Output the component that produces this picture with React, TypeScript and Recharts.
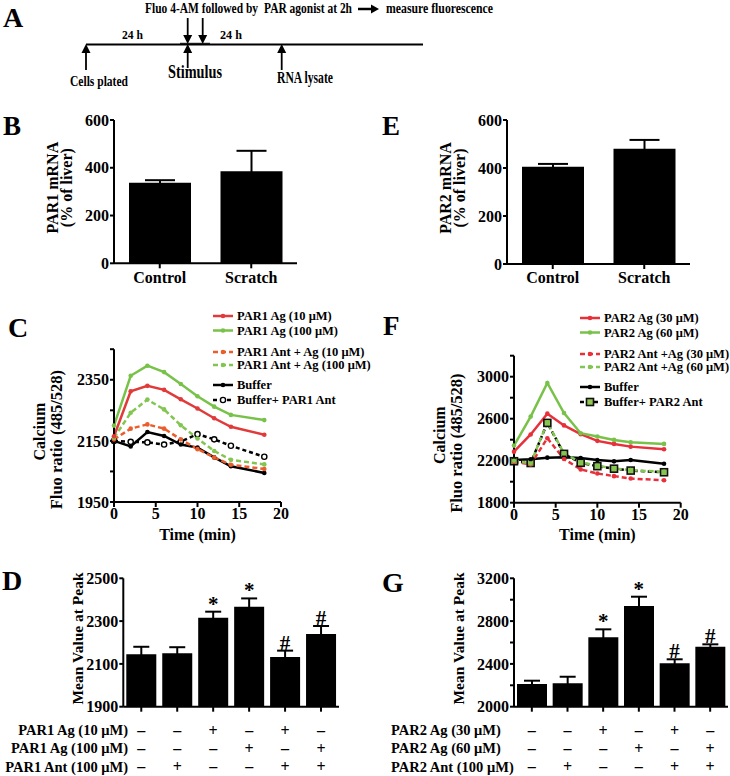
import React from 'react'
import {
  ComposedChart, LineChart, Bar, Line, XAxis, YAxis, ErrorBar, Label, LabelList, Legend,
} from 'recharts'

const FONT = '"Liberation Serif", "Times New Roman", serif'

// B / E: mRNA
const mrnaGroups = ['Control', 'Scratch']
const par1Mrna = [337, 385]
const par1MrnaSem = [11, 86]
const par2Mrna = [405, 480]
const par2MrnaSem = [12, 37]
const mrnaTicks = [0, 200, 400, 600]

// C: PAR1 calcium time course
const timeC = [0, 2, 4, 6, 8, 10, 12, 14, 18]
const par1Ag10 = [2165, 2312, 2330, 2317, 2286, 2256, 2224, 2196, 2170]
const par1Ag100 = [2200, 2363, 2396, 2375, 2336, 2296, 2262, 2235, 2218]
const par1AntAg10 = [2155, 2190, 2204, 2190, 2155, 2123, 2096, 2072, 2058]
const par1AntAg100 = [2160, 2242, 2285, 2253, 2201, 2158, 2117, 2088, 2073]
const bufferC = [2150, 2132, 2179, 2166, 2138, 2128, 2096, 2067, 2045]
const bufferPar1Ant = [2150, 2147, 2145, 2138, 2148, 2172, 2155, 2134, 2098]
const cNames = ['PAR1 Ag (10 μM)', 'PAR1 Ag (100 μM)', 'PAR1 Ant + Ag (10 μM)', 'PAR1 Ant + Ag (100 μM)', 'Buffer', 'Buffer+ PAR1 Ant']
const cTicks = [1950, 2050, 2150, 2250, 2350, 2450]
const cTickLabels = [1950, 2150, 2350]

// F: PAR2 calcium time course
const timeF = [0, 2, 4, 6, 8, 10, 12, 14, 18]
const par2Ag30 = [2286, 2450, 2648, 2536, 2453, 2389, 2360, 2334, 2309]
const par2Ag60 = [2344, 2620, 2940, 2654, 2462, 2430, 2398, 2376, 2360]
const par2AntAg30 = [2190, 2165, 2414, 2216, 2117, 2078, 2053, 2030, 2014]
const par2AntAg60 = [2200, 2174, 2565, 2270, 2184, 2152, 2126, 2110, 2094]
const bufferF = [2206, 2213, 2229, 2232, 2226, 2206, 2194, 2206, 2171]
const bufferPar2Ant = [2195, 2178, 2560, 2265, 2180, 2148, 2124, 2106, 2090]
const fNames = ['PAR2 Ag (30 μM)', 'PAR2 Ag (60 μM)', 'PAR2 Ant +Ag (30 μM)', 'PAR2 Ant +Ag (60 μM)', 'Buffer', 'Buffer+ PAR2 Ant']
const fTicks = [1800, 2000, 2200, 2400, 2600, 2800, 3000, 3200]
const fTickLabels = [1800, 2200, 2600, 3000]

const timeTicks = [0, 5, 10, 15, 20]

// D / G: peak values
const peakGroups = ['1', '2', '3', '4', '5', '6']
const par1Peak = [2145, 2150, 2316, 2367, 2132, 2240]
const par1PeakSem = [35, 28, 28, 39, 30, 37]
const par2Peak = [2212, 2218, 2649, 2941, 2405, 2561]
const par2PeakSem = [31, 62, 74, 87, 38, 22]
const peakSig = ['', '', '*', '*', '#', '#']
const dTicks = [1900, 2100, 2300, 2500]
const gTicks = [2000, 2200, 2400, 2600, 2800, 3000, 3200]
const gTickLabels = [2000, 2400, 2800, 3200]
const agLowSigns = ['–', '–', '+', '–', '+', '–']
const agHighSigns = ['–', '–', '–', '+', '–', '+']
const antSigns = ['–', '+', '–', '–', '+', '+']
const par1Rows = ['PAR1 Ag (10 μM)', 'PAR1 Ag (100 μM)', 'PAR1 Ant (100 μM)']
const par2Rows = ['PAR2 Ag (30 μM)', 'PAR2 Ag (60 μM)', 'PAR2 Ant (100 μM)']

const RED = '#e03a3a'
const GREEN = '#79c24a'
const ORANGE = '#ec5d2c'
const DRED = '#e8303a'
const DGREEN = '#82c550'

type Marker = 'dot' | 'open' | 'square'
type Style = { color: string; dash?: string; marker: Marker }

const cStyles: Style[] = [
  { color: RED, marker: 'dot' },
  { color: GREEN, marker: 'dot' },
  { color: ORANGE, dash: '5 3', marker: 'dot' },
  { color: DGREEN, dash: '5 3', marker: 'dot' },
  { color: '#000', marker: 'dot' },
  { color: '#000', dash: '4 3', marker: 'open' },
]
const fStyles: Style[] = [
  { color: DRED, marker: 'dot' },
  { color: GREEN, marker: 'dot' },
  { color: DRED, dash: '5 3', marker: 'dot' },
  { color: DGREEN, dash: '5 3', marker: 'dot' },
  { color: '#000', marker: 'dot' },
  { color: '#000', dash: '4 3', marker: 'square' },
]
const legendRows = [0, 14.5, 36, 49, 69, 84]

const tickStyle = { fontFamily: FONT, fontWeight: 700, fontSize: 16, fill: '#000' }
const axisLine = { stroke: '#000', strokeWidth: 2 }

type Box = { left: number; top: number; width: number; height: number }
type Plot = { x0: number; y0: number; x1: number; y1: number }

function frame(box: Box, plot: Plot, xh: number) {
  return {
    margin: {
      top: plot.y0 - box.top,
      right: box.left + box.width - plot.x1,
      bottom: box.top + box.height - plot.y1 - xh,
      left: 0,
    },
    yw: plot.x0 - box.left,
  }
}

function drawMarker(kind: Marker, color: string, cx: number, cy: number, key?: any) {
  if (kind === 'open') return <circle key={key} cx={cx} cy={cy} r={2.6} fill="#fff" stroke="#000" strokeWidth={1.4} />
  if (kind === 'square') return <rect key={key} x={cx - 3.5} y={cy - 3.5} width={7} height={7} fill="#93c94f" stroke="#111" strokeWidth={1.6} />
  return <circle key={key} cx={cx} cy={cy} r={2.3} fill={color} />
}

// each line: [text, x offset from the axis line, y shift from the axis middle, font size]
type TitleLine = [string, number, number, number]

const yTitle = (lines: TitleLine[]) => (props: any) => {
  const vb = props.viewBox
  const ax = vb.x + vb.width
  const mid = vb.y + vb.height / 2
  return (
    <g>
      {lines.map(([l, dx, dy, fs]) => (
        <text key={l} transform={`translate(${ax + dx},${mid + dy}) rotate(-90)`} textAnchor="middle" dy="0.35em"
          fontFamily={FONT} fontWeight={700} fontSize={fs} fill="#000">{l}</text>
      ))}
    </g>
  )
}

function lineLegend(names: string[], styles: Style[]) {
  return () => (
    <svg width={160} height={96} style={{ overflow: 'visible', display: 'block' }}>
      {names.map((n, i) => {
        const y = legendRows[i] + 6
        const s = styles[i]
        return (
          <g key={n}>
            <line x1={0} x2={20} y1={y} y2={y} stroke={s.color} strokeWidth={2.5} strokeDasharray={s.dash} />
            {drawMarker(s.marker, s.color, 10, y)}
            <text x={24} y={y} dy="0.35em" fontFamily={FONT} fontWeight={700} fontSize={12.5} fill="#000">{n}</text>
          </g>
        )
      })}
    </svg>
  )
}

function MrnaPanel({ box, plot, values, sem, title }: { box: Box; plot: Plot; values: number[]; sem: number[]; title: string[] }) {
  const xh = 26
  const { margin, yw } = frame(box, plot, xh)
  const data = mrnaGroups.map((g, i) => ({ group: g, value: values[i], sem: sem[i] }))
  return (
    <div style={{ position: 'absolute', left: box.left, top: box.top }}>
      <ComposedChart width={box.width} height={box.height} data={data} margin={margin}>
        <XAxis dataKey="group" height={xh} tick={tickStyle} tickSize={5} tickMargin={3} axisLine={axisLine} tickLine={axisLine} interval={0} />
        <YAxis width={yw} domain={[0, 600]} ticks={mrnaTicks} tick={tickStyle} tickSize={4} tickMargin={1} axisLine={axisLine} tickLine={axisLine} interval={0}>
          <Label content={yTitle([[title[0], -62, -4, 16], [title[1], -48, -4, 16]])} />
        </YAxis>
        <Bar dataKey="value" fill="#000" barSize={62} isAnimationActive={false}>
          <ErrorBar dataKey="sem" width={15} stroke="#000" strokeWidth={2} direction="y" isAnimationActive={false} />
        </Bar>
      </ComposedChart>
    </div>
  )
}

function TimePanel({ box, plot, time, series, styles, names, ticks, tickLabels, domain, legendPos }: {
  box: Box; plot: Plot; time: number[]; series: number[][]; styles: Style[]; names: string[]; ticks: number[]; tickLabels: number[]; domain: [number, number]; legendPos: { x: number; y: number }
}) {
  const xh = box.top + box.height - plot.y1
  const { margin, yw } = frame(box, plot, xh)
  const data = time.map((t, i) => {
    const row: Record<string, number> = { t }
    series.forEach((s, k) => { row[`s${k}`] = s[i] })
    return row
  })
  const order = [5, 4, 2, 3, 0, 1]
  return (
    <div style={{ position: 'absolute', left: box.left, top: box.top }}>
      <LineChart width={box.width} height={box.height} data={data} margin={margin}>
        <XAxis type="number" dataKey="t" domain={[0, 20]} ticks={timeTicks} height={xh} tick={tickStyle} tickSize={5} tickMargin={1} axisLine={axisLine} tickLine={axisLine} interval={0}>
          <Label value="Time (min)" position="insideBottom" offset={5} style={{ fontFamily: FONT, fontWeight: 700, fontSize: 16, fill: '#000' }} />
        </XAxis>
        <YAxis width={yw} domain={domain} ticks={ticks} tick={tickStyle} tickSize={4} tickMargin={1} axisLine={axisLine} tickLine={axisLine} interval={0}
          tickFormatter={(v: number) => (tickLabels.includes(v) ? String(v) : '')}>
          <Label content={yTitle([['Calcium', -75, 6, 16], ['Fluo ratio (485/528)', -58, 14, 16.5]])} />
        </YAxis>
        <Legend verticalAlign="middle" align="center" layout="horizontal" content={lineLegend(names, styles)}
          wrapperStyle={{ left: legendPos.x - box.left, top: legendPos.y - box.top, width: 165, height: 96 }} />
        {order.map((k) => (
          <Line key={k} dataKey={`s${k}`} stroke={styles[k].color} strokeWidth={2.5} strokeDasharray={styles[k].dash}
            isAnimationActive={false} activeDot={false}
            dot={(p: any) => drawMarker(styles[k].marker, styles[k].color, p.cx, p.cy, p.index)} />
        ))}
      </LineChart>
    </div>
  )
}

function PeakPanel({ box, plot, values, sem, ticks, tickLabels, domain, rows, rowX, rowAnchor, titleDx }: {
  box: Box; plot: Plot; values: number[]; sem: number[]; ticks: number[]; tickLabels: number[]; domain: [number, number]; rows: string[]; rowX: number; rowAnchor: 'start' | 'end'; titleDx: number
}) {
  const xh = box.top + box.height - plot.y1
  const { margin, yw } = frame(box, plot, xh)
  const data = peakGroups.map((g, i) => ({ group: g, value: values[i], sem: sem[i], capTop: values[i] + sem[i], sig: peakSig[i] }))
  const signs = [agLowSigns, agHighSigns, antSigns]
  const rowDy = [23.3, 41.6, 60]
  const signTick = (p: any) => {
    const idx = p.index
    return (
      <g>
        {signs.map((s, r) => (
          <text key={r} x={p.x} y={plot.y1 - box.top + rowDy[r]} dy="0.35em" textAnchor="middle" fontFamily={FONT} fontWeight={700} fontSize={16} fill="#000">{s[idx]}</text>
        ))}
      </g>
    )
  }
  const rowLabels = (p: any) => {
    const vb = p.viewBox
    return (
      <g>
        {rows.map((r, i) => (
          <text key={r} x={rowX - box.left} y={vb.y + rowDy[i]} dy="0.35em" textAnchor={rowAnchor} fontFamily={FONT} fontWeight={700} fontSize={14.5} fill="#000">{r}</text>
        ))}
      </g>
    )
  }
  const sigLabel = (p: any) => {
    if (!p.value) return null
    return <text x={p.x} y={p.y - 1} textAnchor="middle" fontFamily={FONT} fontWeight={700} fontSize={21} fill="#000">{p.value}</text>
  }
  return (
    <div style={{ position: 'absolute', left: box.left, top: box.top }}>
      <ComposedChart width={box.width} height={box.height} data={data} margin={margin}>
        <XAxis dataKey="group" height={xh} tick={signTick} tickSize={5} axisLine={axisLine} tickLine={axisLine} interval={0}>
          <Label content={rowLabels} />
        </XAxis>
        <YAxis width={yw} domain={domain} ticks={ticks} tick={tickStyle} tickSize={4} tickMargin={1} axisLine={axisLine} tickLine={axisLine} interval={0}
          allowDataOverflow tickFormatter={(v: number) => (tickLabels.includes(v) ? String(v) : '')}>
          <Label content={yTitle([['Mean Value at Peak', titleDx, -4, 15.5]])} />
        </YAxis>
        <Bar dataKey="value" fill="#000" barSize={30} isAnimationActive={false}>
          <ErrorBar dataKey="sem" width={8} stroke="#000" strokeWidth={2} direction="y" isAnimationActive={false} />
        </Bar>
        <Line dataKey="capTop" stroke="none" dot={false} activeDot={false} isAnimationActive={false}>
          <LabelList dataKey="sig" content={sigLabel} />
        </Line>
      </ComposedChart>
    </div>
  )
}

function Schematic() {
  const t = { fontFamily: FONT, fontWeight: 700, fill: '#000' } as const
  const up = (x: number, y2: number) => (
    <g>
      <line x1={x} x2={x} y1={50} y2={y2} stroke="#000" strokeWidth={1.8} />
      <polygon points={`${x - 4.5},53 ${x + 4.5},53 ${x},44`} fill="#000" />
    </g>
  )
  const down = (x: number) => (
    <g>
      <line x1={x} x2={x} y1={18} y2={36} stroke="#000" strokeWidth={1.8} />
      <polygon points={`${x - 4.5},35 ${x + 4.5},35 ${x},44`} fill="#000" />
    </g>
  )
  // narrow caption: horizontally squeezed bold serif text of a given width
  const narrow = (s: string, x: number, y: number, w: number, fs: number, sx = 0.8) => (
    <text transform={`translate(${x},${y}) scale(${sx},1)`} fontSize={fs} textLength={w / sx} lengthAdjust="spacingAndGlyphs" {...t}>{s}</text>
  )
  return (
    <svg width={730} height={776} style={{ position: 'absolute', left: 0, top: 0 }}>
      <text x={3} y={27} fontSize={28} {...t}>A</text>
      <text x={3} y={135} fontSize={27} {...t}>B</text>
      <text x={382} y={135} fontSize={27} {...t}>E</text>
      <text x={8} y={337} fontSize={28} {...t}>C</text>
      <text x={383} y={335} fontSize={27} {...t}>F</text>
      <text x={2} y={590} fontSize={28} {...t}>D</text>
      <text x={382} y={592} fontSize={28} {...t}>G</text>

      <line x1={86} x2={423} y1={44.5} y2={44.5} stroke="#000" strokeWidth={2} />
      <line x1={180} x2={210} y1={43.3} y2={43.3} stroke="#000" strokeWidth={1} />
      {up(86, 70)}
      {up(187.7, 68)}
      {up(281.7, 70)}
      {down(187.7)}
      {down(202.7)}
      <line x1={358} x2={372} y1={9} y2={9} stroke="#000" strokeWidth={2.5} />
      <polygon points="371,4.5 371,13.5 379,9" fill="#000" />

      {narrow('Fluo 4-AM followed by', 145, 13.3, 113, 14)}
      {narrow('PAR agonist at 2h', 264, 13.3, 88, 14)}
      {narrow('measure fluorescence', 386, 13.3, 107, 14, 0.87)}
      {narrow('24 h', 122, 39.3, 21, 13, 0.85)}
      {narrow('24 h', 220, 39.3, 22, 13, 0.85)}
      {narrow('Cells plated', 70, 86, 58, 15, 0.8)}
      {narrow('Stimulus', 168, 78.3, 54, 19, 0.76)}
      {narrow('RNA lysate', 277, 82.7, 56, 16, 0.76)}
    </svg>
  )
}

export default function App() {
  return (
    <div style={{ position: 'absolute', left: 0, top: 0, width: 730, height: 776, background: '#fff', overflow: 'hidden' }}>
      <Schematic />
      <MrnaPanel box={{ left: 0, top: 100, width: 310, height: 190 }} plot={{ x0: 114, y0: 120, x1: 297, y1: 263.3 }}
        values={par1Mrna} sem={par1MrnaSem} title={['PAR1 mRNA', '(% of liver)']} />
      <MrnaPanel box={{ left: 365, top: 100, width: 340, height: 190 }} plot={{ x0: 507, y0: 120, x1: 690, y1: 264 }}
        values={par2Mrna} sem={par2MrnaSem} title={['PAR2 mRNA', '(% of liver)']} />
      <TimePanel box={{ left: 0, top: 300, width: 372, height: 245 }} plot={{ x0: 114, y0: 349.2, x1: 281, y1: 502 }} time={timeC}
        series={[par1Ag10, par1Ag100, par1AntAg10, par1AntAg100, bufferC, bufferPar1Ant]} styles={cStyles} names={cNames}
        ticks={cTicks} tickLabels={cTickLabels} domain={[1950, 2450]} legendPos={{ x: 213, y: 309.7 }} />
      <TimePanel box={{ left: 365, top: 300, width: 365, height: 245 }} plot={{ x0: 514, y0: 355.7, x1: 680.7, y1: 502.7 }} time={timeF}
        series={[par2Ag30, par2Ag60, par2AntAg30, par2AntAg60, bufferF, bufferPar2Ant]} styles={fStyles} names={fNames}
        ticks={fTicks} tickLabels={fTickLabels} domain={[1800, 3200]} legendPos={{ x: 580, y: 312 }} />
      <PeakPanel box={{ left: 0, top: 560, width: 345, height: 216 }} plot={{ x0: 123.3, y0: 578.3, x1: 339, y1: 706.7 }}
        values={par1Peak} sem={par1PeakSem} ticks={dTicks} tickLabels={dTicks} domain={[1900, 2500]} rows={par1Rows} rowX={128} rowAnchor="end" titleDx={-46} />
      <PeakPanel box={{ left: 385, top: 560, width: 345, height: 216 }} plot={{ x0: 514, y0: 578.3, x1: 728, y1: 706.7 }}
        values={par2Peak} sem={par2PeakSem} ticks={gTicks} tickLabels={gTickLabels} domain={[2000, 3200]} rows={par2Rows} rowX={391} rowAnchor="start" titleDx={-55} />
    </div>
  )
}
